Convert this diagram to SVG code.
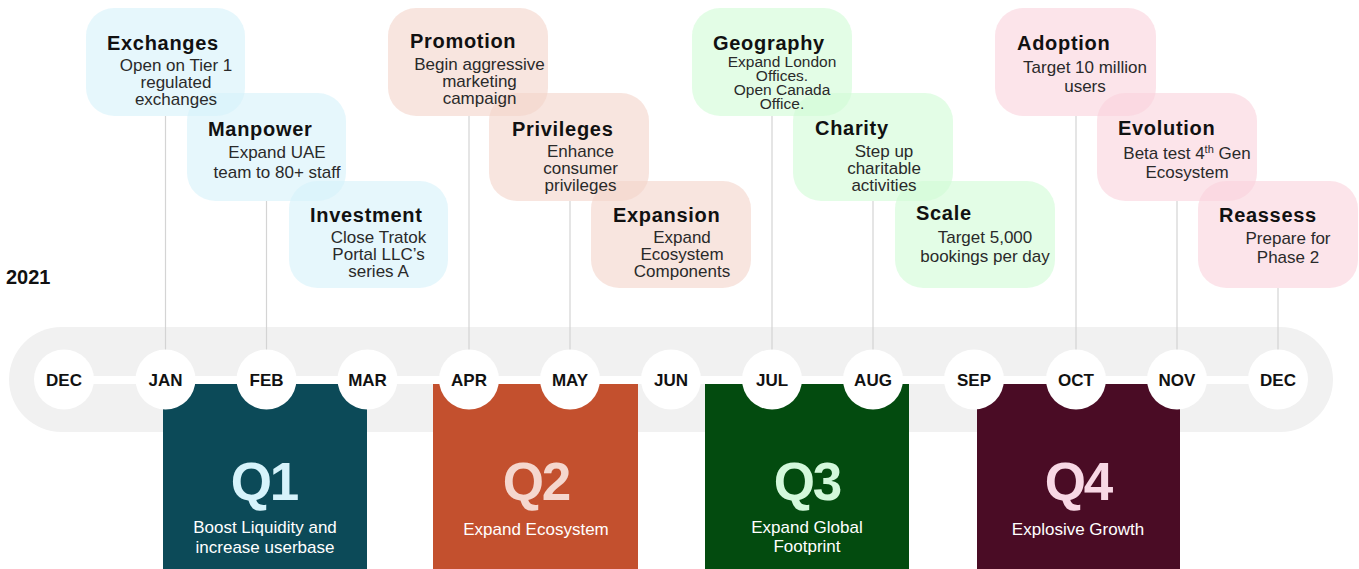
<svg xmlns="http://www.w3.org/2000/svg" width="1359" height="569" viewBox="0 0 1359 569">
<style>
.t{font-family:"Liberation Sans",Arial,sans-serif;font-weight:bold;font-size:20px;letter-spacing:0.7px;fill:#111}
.b{font-family:"Liberation Sans",Arial,sans-serif;font-size:17px;fill:#2a2a2a;text-anchor:middle}
.g{font-size:15.5px}
.m{font-family:"Liberation Sans",Arial,sans-serif;font-weight:bold;font-size:17px;fill:#111;text-anchor:middle}
.q{font-family:"Liberation Sans",Arial,sans-serif;font-weight:bold;font-size:53px;letter-spacing:-2px;text-anchor:middle}
.s{font-family:"Liberation Sans",Arial,sans-serif;font-size:17px;fill:#ffffff;text-anchor:middle}
.c1{fill:#d5f2fa;fill-opacity:0.6}
.c2{fill:#f3d4ca;fill-opacity:0.6}
.c3{fill:#d0fcd5;fill-opacity:0.6}
.c4{fill:#fad2dc;fill-opacity:0.6}
.ln{stroke:#d4d4d4;stroke-width:1.2;fill:none}
.mc{fill:#ffffff}
</style>
<rect width="1359" height="569" fill="#ffffff"/>
<text x="6" y="284" font-family="Liberation Sans, Arial, sans-serif" font-weight="bold" font-size="20" fill="#111">2021</text>
<g id="track">
<rect x="9" y="327" width="1324" height="105" rx="52.5" fill="#f1f1f1"/>
<rect x="64" y="376" width="1213" height="8" fill="#ffffff"/>
</g>
<g id="q1"><rect x="163" y="384" width="204" height="190" fill="#0c4a58"/><text class="q" x="264" y="500" fill="#d6f3fb">Q1</text><text class="s" x="265" y="533">Boost Liquidity and</text><text class="s" x="265" y="553">increase userbase</text></g>
<g id="q2"><rect x="433" y="384" width="205" height="190" fill="#c3502e"/><text class="q" x="536" y="500" fill="#f5d7ce">Q2</text><text class="s" x="536" y="535">Expand Ecosystem</text></g>
<g id="q3"><rect x="705" y="384" width="204" height="190" fill="#034b0f"/><text class="q" x="807" y="500" fill="#d3f8db">Q3</text><text class="s" x="807" y="533">Expand Global</text><text class="s" x="807" y="552">Footprint</text></g>
<g id="q4"><rect x="977" y="384" width="203" height="190" fill="#4a0c25"/><text class="q" x="1078" y="500" fill="#f8d8e5">Q4</text><text class="s" x="1078" y="535">Explosive Growth</text></g>
<g id="connectors">
<line class="ln" x1="165.5" y1="116" x2="165.5" y2="350"/>
<line class="ln" x1="266.5" y1="201" x2="266.5" y2="350"/>
<line class="ln" x1="469" y1="116" x2="469" y2="350"/>
<line class="ln" x1="570" y1="201" x2="570" y2="350"/>
<line class="ln" x1="772" y1="116" x2="772" y2="350"/>
<line class="ln" x1="873" y1="201" x2="873" y2="350"/>
<line class="ln" x1="1076" y1="116" x2="1076" y2="350"/>
<line class="ln" x1="1177" y1="201" x2="1177" y2="350"/>
<line class="ln" x1="1278" y1="288" x2="1278" y2="350"/>
</g>
<g id="months">
<g id="m-dec0"><circle class="mc" cx="64" cy="379.5" r="30"/><text class="m" x="64" y="386">DEC</text></g>
<g id="m-jan"><circle class="mc" cx="165.5" cy="379.5" r="30"/><text class="m" x="165.5" y="386">JAN</text></g>
<g id="m-feb"><circle class="mc" cx="266.5" cy="379.5" r="30"/><text class="m" x="266.5" y="386">FEB</text></g>
<g id="m-mar"><circle class="mc" cx="367.5" cy="379.5" r="30"/><text class="m" x="367.5" y="386">MAR</text></g>
<g id="m-apr"><circle class="mc" cx="469" cy="379.5" r="30"/><text class="m" x="469" y="386">APR</text></g>
<g id="m-may"><circle class="mc" cx="570" cy="379.5" r="30"/><text class="m" x="570" y="386">MAY</text></g>
<g id="m-jun"><circle class="mc" cx="671" cy="379.5" r="30"/><text class="m" x="671" y="386">JUN</text></g>
<g id="m-jul"><circle class="mc" cx="772" cy="379.5" r="30"/><text class="m" x="772" y="386">JUL</text></g>
<g id="m-aug"><circle class="mc" cx="873" cy="379.5" r="30"/><text class="m" x="873" y="386">AUG</text></g>
<g id="m-sep"><circle class="mc" cx="974" cy="379.5" r="30"/><text class="m" x="974" y="386">SEP</text></g>
<g id="m-oct"><circle class="mc" cx="1076" cy="379.5" r="30"/><text class="m" x="1076" y="386">OCT</text></g>
<g id="m-nov"><circle class="mc" cx="1177" cy="379.5" r="30"/><text class="m" x="1177" y="386">NOV</text></g>
<g id="m-dec"><circle class="mc" cx="1278" cy="379.5" r="30"/><text class="m" x="1278" y="386">DEC</text></g>
</g>
<g id="investment"><rect class="c1" x="289" y="181" width="159" height="107" rx="28"/><text class="t" x="310" y="222">Investment</text><text class="b" x="378.5" y="243">Close Tratok</text><text class="b" x="378.5" y="260">Portal LLC’s</text><text class="b" x="378.5" y="277">series A</text></g>
<g id="manpower"><rect class="c1" x="187" y="93" width="159" height="108" rx="28"/><text class="t" x="208" y="136">Manpower</text><text class="b" x="277" y="158">Expand UAE</text><text class="b" x="277" y="178">team to 80+ staff</text></g>
<g id="exchanges"><rect class="c1" x="86" y="8" width="159" height="108" rx="28"/><text class="t" x="107" y="50">Exchanges</text><text class="b" x="176" y="71">Open on Tier 1</text><text class="b" x="176" y="88">regulated</text><text class="b" x="176" y="105">exchanges</text></g>
<g id="expansion"><rect class="c2" x="591" y="181" width="160" height="107" rx="28"/><text class="t" x="613" y="222">Expansion</text><text class="b" x="682" y="243">Expand</text><text class="b" x="682" y="260">Ecosystem</text><text class="b" x="682" y="277">Components</text></g>
<g id="privileges"><rect class="c2" x="489" y="93" width="160" height="108" rx="28"/><text class="t" x="512" y="136">Privileges</text><text class="b" x="580.5" y="157">Enhance</text><text class="b" x="580.5" y="174">consumer</text><text class="b" x="580.5" y="191">privileges</text></g>
<g id="promotion"><rect class="c2" x="388" y="8" width="160" height="108" rx="28"/><text class="t" x="410" y="48">Promotion</text><text class="b" x="479.5" y="70">Begin aggressive</text><text class="b" x="479.5" y="87">marketing</text><text class="b" x="479.5" y="104">campaign</text></g>
<g id="scale"><rect class="c3" x="895" y="181" width="160" height="107" rx="28"/><text class="t" x="916" y="220">Scale</text><text class="b" x="985" y="243">Target 5,000</text><text class="b" x="985" y="262">bookings per day</text></g>
<g id="charity"><rect class="c3" x="793" y="93" width="160" height="108" rx="28"/><text class="t" x="815" y="135">Charity</text><text class="b" x="884" y="157">Step up</text><text class="b" x="884" y="174">charitable</text><text class="b" x="884" y="191">activities</text></g>
<g id="geography"><rect class="c3" x="692" y="8" width="160" height="108" rx="28"/><text class="t" x="713" y="50">Geography</text><text class="b g" x="782" y="67">Expand London</text><text class="b g" x="782" y="81">Offices.</text><text class="b g" x="782" y="95">Open Canada</text><text class="b g" x="782" y="109">Office.</text></g>
<g id="reassess"><rect class="c4" x="1198" y="181" width="160" height="107" rx="28"/><text class="t" x="1219" y="222">Reassess</text><text class="b" x="1288" y="244">Prepare for</text><text class="b" x="1288" y="263">Phase 2</text></g>
<g id="evolution"><rect class="c4" x="1097" y="93" width="160" height="108" rx="28"/><text class="t" x="1118" y="135">Evolution</text><text class="b" x="1187" y="159">Beta test 4<tspan font-size="11" dy="-6">th</tspan><tspan dy="6"> Gen</tspan></text><text class="b" x="1187" y="178">Ecosystem</text></g>
<g id="adoption"><rect class="c4" x="995" y="8" width="161" height="108" rx="28"/><text class="t" x="1017" y="50">Adoption</text><text class="b" x="1085" y="73">Target 10 million</text><text class="b" x="1085" y="92">users</text></g>
</svg>
